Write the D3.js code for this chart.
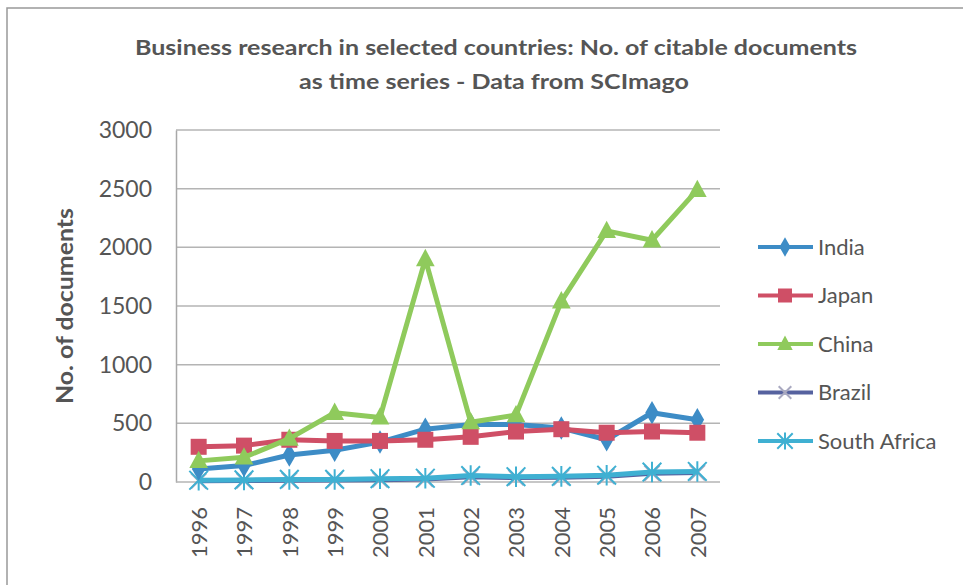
<!DOCTYPE html>
<html>
<head>
<meta charset="utf-8">
<script src="https://cdn.jsdelivr.net/npm/d3@7"></script>
<style>
  body { margin: 0; background: #fff; }
  text { font-family: Lato, "Open Sans", sans-serif; fill: #555; }
</style>
</head>
<body>
<svg id="chart"></svg>
<script>
// data
const years = ['1996','1997','1998','1999','2000','2001','2002','2003','2004','2005','2006','2007']
const india = [110, 140, 230, 270, 340, 450, 490, 490, 460, 360, 590, 530]
const japan = [300, 310, 360, 350, 350, 360, 385, 430, 450, 420, 430, 420]
const china = [180, 210, 370, 590, 550, 1900, 510, 570, 1540, 2140, 2060, 2490]
const brazil = [10, 12, 15, 18, 20, 25, 45, 38, 40, 50, 75, 80]
const southAfrica = [15, 18, 22, 22, 28, 32, 55, 45, 48, 58, 85, 90]
const yTicks = [0, 500, 1000, 1500, 2000, 2500, 3000]

const series = [
  {name: 'India', values: india, color: '#3d8cc6', marker: 'diamond'},
  {name: 'Japan', values: japan, color: '#cf4f66', marker: 'square'},
  {name: 'China', values: china, color: '#8fca5c', marker: 'triangle'},
  {name: 'Brazil', values: brazil, color: '#56629f', marker: 'x'},
  {name: 'South Africa', values: southAfrica, color: '#3fb0d2', marker: 'star'}
]

const W = 966, H = 585
const svg = d3.select('#chart').attr('width', W).attr('height', H)

// chart frame (only top and left edge visible in the scan)
svg.append('path')
  .attr('d', 'M7,585 L7,8 L963,8')
  .attr('fill', 'none').attr('stroke', '#999').attr('stroke-width', 1.5)

// title
const title = svg.append('g').attr('font-weight', 'bold')
title.append('text').attr('x', 496).attr('y', 55).attr('text-anchor', 'middle')
  .attr('font-size', 21).attr('textLength', 722).attr('lengthAdjust', 'spacingAndGlyphs')
  .text('Business research in selected countries: No. of citable documents')
title.append('text').attr('x', 494).attr('y', 89).attr('text-anchor', 'middle')
  .attr('font-size', 21).attr('textLength', 390).attr('lengthAdjust', 'spacingAndGlyphs')
  .text('as time series - Data from SCImago')

const pLeft = 176, pRight = 720, pTop = 130, pBottom = 482

const x = d3.scalePoint().domain(years).range([pLeft, pRight]).padding(0.5)
const y = d3.scaleLinear().domain([0, 3000]).range([pBottom, pTop])

// gridlines
svg.append('g').selectAll('line').data(yTicks.slice(1)).join('line')
  .attr('x1', pLeft).attr('x2', pRight)
  .attr('y1', d => y(d)).attr('y2', d => y(d))
  .attr('stroke', '#b4b4b4').attr('stroke-width', 1.5)

// y axis
const yAxis = svg.append('g').attr('transform', `translate(${pLeft},0)`)
  .call(d3.axisLeft(y).tickValues(yTicks).tickFormat(d3.format('d')).tickSize(0).tickPadding(24))
yAxis.select('.domain').attr('stroke', '#a8a8a8').attr('stroke-width', 1.5)
yAxis.selectAll('text').attr('font-size', 23).attr('font-family', 'Lato').style('fill', '#555')

// x axis
const xAxis = svg.append('g').attr('transform', `translate(0,${pBottom})`)
  .call(d3.axisBottom(x).tickSize(0))
xAxis.select('.domain').attr('d', `M${pLeft},0H${pRight}`).attr('stroke', '#b4b4b4').attr('stroke-width', 1.5)
xAxis.selectAll('text')
  .attr('font-size', 22).attr('font-family', 'Lato').style('fill', '#555')
  .attr('transform', 'rotate(-90)')
  .attr('text-anchor', 'end').attr('dx', -25).attr('dy', '0.35em').attr('y', 0)

// y axis title
svg.append('text')
  .attr('transform', 'translate(73,306) rotate(-90)')
  .attr('text-anchor', 'middle').attr('font-weight', 'bold').attr('font-size', 23)
  .attr('textLength', 196).attr('lengthAdjust', 'spacingAndGlyphs')
  .text('No. of documents')

// markers
const drawMarker = (g, type, color, s) => {
  if (type === 'diamond') {
    g.append('path').attr('d', d3.symbol(d3.symbolDiamond, s * s * 0.55)).attr('fill', color)
  } else if (type === 'square') {
    g.append('rect').attr('x', -s / 2).attr('y', -s / 2).attr('width', s).attr('height', s).attr('fill', color)
  } else if (type === 'triangle') {
    g.append('path').attr('d', `M0,${-s * 0.6}L${s * 0.55},${s * 0.42}L${-s * 0.55},${s * 0.42}Z`).attr('fill', color)
  } else if (type === 'x') {
    const h = s * 0.45
    g.append('path').attr('d', `M${-h},${-h}L${h},${h}M${-h},${h}L${h},${-h}`)
      .attr('stroke', '#a9a9c0').attr('stroke-width', 2)
  } else {
    const h = s * 0.55
    g.append('path').attr('d', `M${-h},${-h}L${h},${h}M${-h},${h}L${h},${-h}M0,${-h * 1.1}L0,${h * 1.1}`)
      .attr('stroke', color).attr('stroke-width', 2)
  }
}

const line = d3.line().x((d, i) => x(years[i])).y(d => y(d))

const order = [3, 4, 0, 1, 2]
order.forEach(k => {
  const s = series[k]
  svg.append('path').datum(s.values)
    .attr('d', line).attr('fill', 'none')
    .attr('stroke', s.color).attr('stroke-width', 5).attr('stroke-linejoin', 'round')
  s.values.forEach((v, i) => {
    const g = svg.append('g').attr('transform', `translate(${x(years[i])},${y(v)})`)
    drawMarker(g, s.marker, s.color, s.marker === 'square' ? 16 : 17)
  })
})

// legend
const legend = svg.append('g')
series.forEach((s, i) => {
  const ly = 247 + i * 48.5
  legend.append('line').attr('x1', 758).attr('x2', 813).attr('y1', ly).attr('y2', ly)
    .attr('stroke', s.color).attr('stroke-width', 4)
  const g = legend.append('g').attr('transform', `translate(785,${ly})`)
  drawMarker(g, s.marker, s.color, 14)
  legend.append('text').attr('x', 818).attr('y', ly).attr('dy', '0.35em')
    .attr('font-size', 22).text(s.name)
})
</script>
</body>
</html>
